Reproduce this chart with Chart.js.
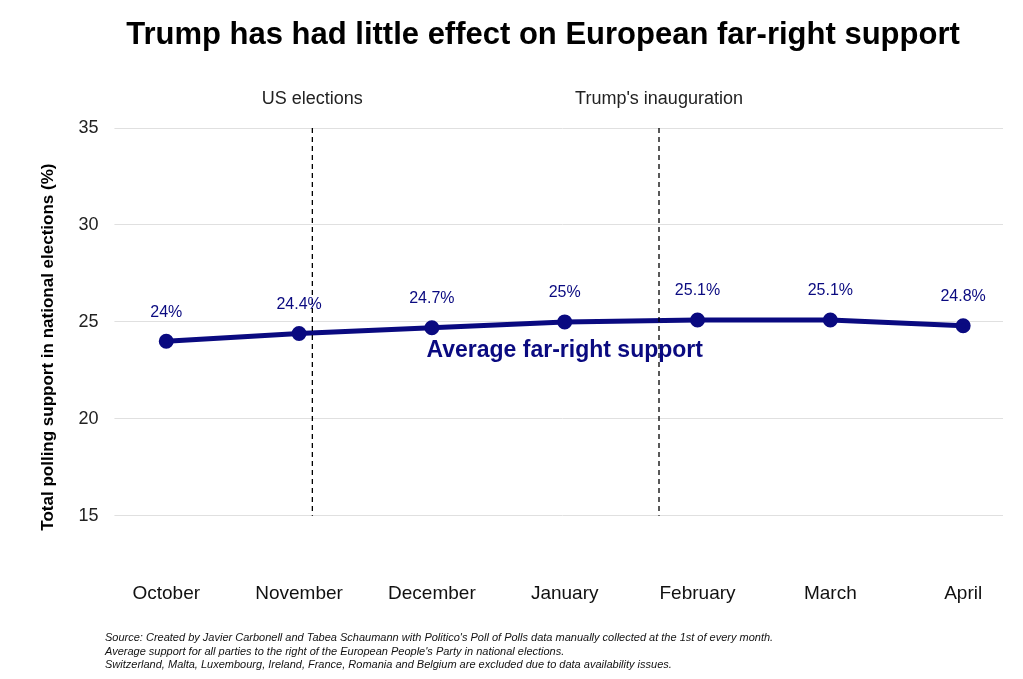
<!DOCTYPE html>
<html><head><meta charset="utf-8">
<script src="https://cdn.jsdelivr.net/npm/chart.js@4"></script>
<style>html,body{margin:0;background:#fff;}#w{width:1023px;height:679px;position:relative}</style>
</head><body><div id="w"><canvas id="c"></canvas></div>
<script>
const categories=["October","November","December","January","February","March","April"];
const support=[24.0,24.4,24.7,25.0,25.1,25.1,24.8];
const valueLabels=["24%","24.4%","24.7%","25%","25.1%","25.1%","24.8%"];
const yTicks=[15,20,25,30,35];
const events=[{x:1.1,label:"US elections"},{x:3.71,label:"Trump's inauguration"}];
const titleText="Trump has had little effect on European far-right support";
const footer=["Source: Created by Javier Carbonell and Tabea Schaumann with Politico's Poll of Polls data manually collected at the 1st of every month.","Average support for all parties to the right of the European People's Party in national elections.","Switzerland, Malta, Luxembourg, Ireland, France, Romania and Belgium are excluded due to data availability issues."];
const F="'Liberation Sans', Arial, sans-serif";
const navy="#0a0a80";
const extras={id:"extras",afterDatasetsDraw(ch){
 const {ctx,scales:{x,y}}=ch;ctx.save();
 ctx.fillStyle="#000";ctx.font="bold 31px "+F;ctx.textAlign="center";ctx.textBaseline="middle";
 ctx.fillText(titleText,543,35);
 ctx.font="italic 11px "+F;ctx.textAlign="left";ctx.fillStyle="#111";
 footer.forEach((t,i)=>ctx.fillText(t,105,638+i*13.5));
 events.forEach(e=>{const px=x.getPixelForValue(e.x);
  ctx.setLineDash([5,4]);ctx.strokeStyle="#000";ctx.lineWidth=1.3;
  ctx.beginPath();ctx.moveTo(px,y.getPixelForValue(35));ctx.lineTo(px,y.getPixelForValue(15));ctx.stroke();
  ctx.setLineDash([]);ctx.fillStyle="#222";ctx.font="18px "+F;ctx.textAlign="center";ctx.textBaseline="middle";
  ctx.fillText(e.label,px,99);});
 ctx.font="16px "+F;ctx.fillStyle=navy;ctx.textAlign="center";ctx.textBaseline="middle";
 support.forEach((v,i)=>ctx.fillText(valueLabels[i],x.getPixelForValue(i),y.getPixelForValue(v)-29));
 ctx.font="bold 23px "+F;
 ctx.fillText("Average far-right support",x.getPixelForValue(3),y.getPixelForValue(23.5));
 ctx.restore();}};
new Chart(document.getElementById("c"),{type:"line",
 data:{datasets:[{data:support.map((v,i)=>({x:i,y:v})),borderColor:navy,backgroundColor:navy,borderWidth:5,pointRadius:5,pointBackgroundColor:navy,tension:0}]},
 options:{responsive:true,maintainAspectRatio:false,animation:false,
  layout:{padding:{left:38,right:20,top:128,bottom:66}},
  plugins:{legend:{display:false},tooltip:{enabled:false}},
  scales:{
   x:{type:"linear",min:-0.33,max:6.3,grid:{display:false},border:{display:false},
    afterBuildTicks(s){s.ticks=categories.map((c,i)=>({value:i}));},
    ticks:{callback:v=>categories[v],color:"#111",font:{family:F,size:19},padding:8,maxRotation:0}},
   y:{min:12.4,max:35,grid:{color:"#e0e0e0"},border:{display:false},
    afterBuildTicks(s){s.ticks=yTicks.map(v=>({value:v}));},
    ticks:{color:"#222",font:{family:F,size:18},padding:16},
    title:{display:true,text:"Total polling support in national elections (%)",font:{family:F,size:17,weight:"bold"},color:"#000",padding:{top:0,bottom:4}}}}},
 plugins:[extras]});
</script></body></html>
